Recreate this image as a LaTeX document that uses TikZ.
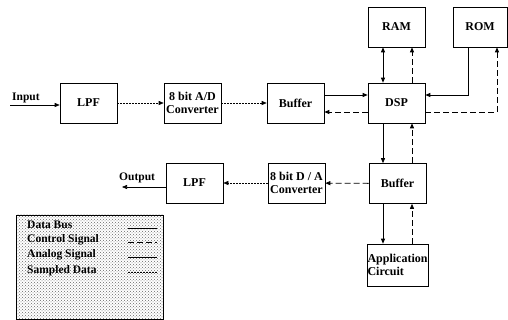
\documentclass[tikz,border=0pt]{standalone}
\usepackage{fontspec}
\setmainfont{Liberation Serif}
\usetikzlibrary{arrows.meta,patterns}

\begin{document}
\begin{tikzpicture}[x=1pt, y=-1pt, >={Triangle[length=5pt,width=4pt]},
    blk/.style={shape=rectangle, draw, semithick, minimum width=57pt, minimum height=40pt,
      inner sep=0.5pt, font=\bfseries\fontsize{12}{13}\selectfont, align=center},
    lbl/.style={inner sep=0pt, font=\bfseries\fontsize{11.5}{12}\selectfont},
    bus/.style={thick, ->},
    ctrl/.style={thick, dash pattern=on 6pt off 3pt, ->},
    analog/.style={semithick, ->},
    sampled/.style={semithick, dash pattern=on 1.5pt off 1.5pt, ->}]
    \useasboundingbox (0,0) rectangle (508,320);

    % blocks
    \node[blk] (lpf1) at (88.5,103) {LPF};
    \node[blk] (adc) at (192.5,103) {8 bit A/D\\Converter};
    \node[blk] (buf1) at (295.5,103) {Buffer};
    \node[blk] (dsp) at (396.5,103) {DSP};
    \node[blk] (ram) at (396.5,27) {RAM};
    \node[blk, minimum width=54pt] (rom) at (480,27) {ROM};
    \node[blk] (buf2) at (397.5,183.5) {Buffer};
    \node[blk, align=left] (dac) at (296.5,183) {8 bit D / A\\Converter};
    \node[blk] (lpf2) at (194.5,183) {LPF};
    \node[blk, align=left, minimum height=42pt] (app) at (397.5,265) {Application\\Circuit};

    % input and output
    \coordinate (inp) at (10,105);
    \coordinate (outp) at (122,187);
    \node[lbl, anchor=base west] (inlbl) at (12,101) {Input};
    \node[lbl, anchor=base west] (outlbl) at (119,181) {Output};
    \draw[analog] (inp) -- (lpf1.west |- inp);
    \draw[analog] ([yshift=-4pt]lpf2.west) -- (outp);

    % sampled data
    \draw[sampled] (lpf1) -- (adc);
    \draw[sampled] (adc) -- (buf1);
    \draw[sampled] (dac) -- (lpf2);

    % data bus
    \draw[bus] ([yshift=8pt]buf1.east) -- ([yshift=8pt]dsp.west);
    \draw[bus, <->] ([xshift=-13.5pt]ram.south) -- ([xshift=-13.5pt]dsp.north);
    \draw[bus] ([xshift=-12pt]rom.south) |- ([yshift=8pt]dsp.east);
    \draw[bus] ([xshift=-13.5pt]dsp.south) -- ([xshift=-14.5pt]buf2.north);
    \draw[bus] ([xshift=-14.5pt]buf2.south) -- ([xshift=-14.5pt]app.north);

    % control signals
    \draw[ctrl] ([yshift=-9pt]dsp.west) -- ([yshift=-9pt]buf1.east);
    \draw[ctrl] ([xshift=15.5pt]dsp.north) -- ([xshift=15.5pt]ram.south);
    \draw[ctrl] ([yshift=-9pt]dsp.east) -| ([xshift=17pt]rom.south);
    \draw[ctrl] ([xshift=14.5pt]buf2.north) -- ([xshift=15.5pt]dsp.south);
    \draw[ctrl] ([xshift=14.5pt]app.north) -- ([xshift=14.5pt]buf2.south);
    \draw[ctrl] (buf2) -- (dac);

    % legend
    \node[draw, semithick, pattern=crosshatch dots, pattern color=black!60,
      minimum width=147pt, minimum height=104pt] (legend) at (89.5,267) {};
    \node[lbl, anchor=west] (lgbus) at (27,225) {Data Bus};
    \node[lbl, anchor=west] (lgctrl) at (27,240) {Control Signal};
    \node[lbl, anchor=west] (lganalog) at (27,255) {Analog Signal};
    \node[lbl, anchor=west] (lgsampled) at (27,271) {Sampled Data};
    \draw[thick] (128,228) -- (157,228);
    \draw[thick, dash pattern=on 6pt off 3pt] (128,242) -- (157,242);
    \draw[semithick] (128,257) -- (157,257);
    \draw[semithick, dash pattern=on 1.5pt off 1.5pt] (128,272) -- (157,272);
\end{tikzpicture}
\end{document}
